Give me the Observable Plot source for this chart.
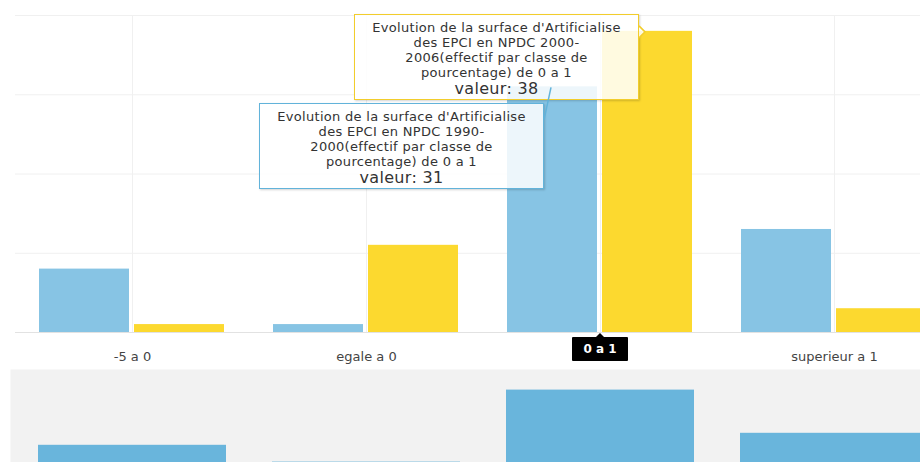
<!DOCTYPE html>
<html><head><meta charset="utf-8">
<script src="https://cdn.jsdelivr.net/npm/d3@7"></script>
<script src="https://cdn.jsdelivr.net/npm/@observablehq/plot@0.6"></script>
<style>
html,body{margin:0;padding:0;background:#fff;overflow:hidden}
#wrap{position:relative;width:920px;height:462px;overflow:hidden;font-family:"DejaVu Sans",Verdana,sans-serif}
#main,#nav{position:absolute;left:0}
#main{top:0}
#nav{top:369px}
.tip{position:absolute;box-sizing:border-box;width:285px;background:rgba(255,255,255,0.85);text-align:center;color:#333;font-size:13px;letter-spacing:0.3px;line-height:15px;padding:5px 8px 2px 8px;box-shadow:1px 1px 2px rgba(0,0,0,0.18);white-space:pre}
.tip .val{font-size:16px;line-height:16px;letter-spacing:0.3px;margin-top:1px}
.lab{position:absolute;background:#000;color:#fff;font-size:12px;font-weight:bold;text-align:center;width:56px;height:24px;line-height:24px;border-radius:1px}
#over{position:absolute;left:0;top:0;pointer-events:none}
</style></head>
<body>
<div id="wrap"><div id="main"></div><div id="nav"></div></div>
<script>
const categories = ["-5 a 0", "egale a 0", "0 a 1", "superieur a 1"];
// series names, kept as the wrapped lines shown in the tooltips
const seriesNameLines = [
  ["Evolution de la surface d'Artificialise", "des EPCI en NPDC 1990-", "2000(effectif par classe de", "pourcentage)"],
  ["Evolution de la surface d'Artificialise", "des EPCI en NPDC 2000-", "2006(effectif par classe de", "pourcentage)"]
];
const seriesNames = seriesNameLines.map(l => l[0] + " " + l[1] + l[2] + " " + l[3]);
const series1990 = [8, 1, 31, 13];
const series2000 = [1, 11, 38, 3];
const yTicks = [0, 10, 20, 30, 40];
const seriesColors = ["#87c4e4", "#fcd92f"];
const tipBorders = ["#62b3da", "#f2cd2c"];
const navColor = "#69b5dc";
const hovered = "0 a 1";
const valueLabel = "valeur: ";

const rows = [];
categories.forEach((c, i) => {
  rows.push({category: c, series: seriesNames[0], value: series1990[i]});
  rows.push({category: c, series: seriesNames[1], value: series2000[i]});
});

const main = Plot.plot({
  width: 920, height: 369,
  marginTop: 15, marginBottom: 37, marginLeft: 14, marginRight: 0,
  style: {fontFamily: '"DejaVu Sans", Verdana, sans-serif', fontSize: "13px", color: "#444", background: "transparent"},
  fx: {domain: categories, range: [14, 952], padding: 0, label: null, axis: "bottom", tickSize: 0, tickPadding: 19,
       tickFormat: d => d === hovered ? "" : d},
  x: {domain: seriesNames, paddingInner: 0.052, paddingOuter: 0.247, axis: null},
  y: {domain: [0, 40], axis: null},
  color: {domain: seriesNames, range: seriesColors},
  marks: [
    Plot.ruleY(yTicks, {stroke: d => d === 0 ? "#e2e2e2" : "#f0f0f0"}),
    Plot.ruleX(categories, {fx: d => d, x: null, stroke: "#f0f0f0"}),
    Plot.barY(rows, {fx: "category", x: "series", y: "value", fill: "series"})
  ]
});
document.getElementById("main").appendChild(main);

const navRows = categories.map((c, i) => ({category: c, value: series1990[i]}));
const nav = Plot.plot({
  width: 920, height: 95,
  marginTop: 0, marginBottom: 0, marginLeft: 10, marginRight: 0,
  style: {background: "transparent"},
  x: {domain: categories, range: [14, 952], paddingInner: 0.198, paddingOuter: 0.099, axis: null},
  y: {domain: [0, 40], range: [95, -1], axis: null},
  marks: [
    Plot.frame({fill: "#f2f2f2", stroke: "none"}),
    Plot.barY(navRows, {x: "category", y: "value", fill: navColor})
  ]
});
document.getElementById("nav").appendChild(nav);

// tooltips positioned from the scales
const fx = main.scale("fx"), xs = main.scale("x"), ys = main.scale("y");
const x0 = Math.min(...xs.range);
function bar(cat, si) {
  const i = categories.indexOf(cat);
  const v = si === 0 ? series1990[i] : series2000[i];
  const left = fx.apply(cat) + xs.apply(seriesNames[si]) - x0;
  return {cx: left + xs.bandwidth / 2, top: ys.apply(v), v};
}
const wrap = document.getElementById("wrap");
function makeTip(si, b) {
  const d = document.createElement("div");
  d.className = "tip";
  d.style.border = "1.5px solid " + tipBorders[si];
  const l = seriesNameLines[si];
  const t = document.createElement("div");
  t.textContent = [l[0], l[1], l[2], l[3] + " de " + hovered].join("\n");
  const v = document.createElement("div");
  v.className = "val";
  v.textContent = valueLabel + b.v;
  d.appendChild(t); d.appendChild(v);
  wrap.appendChild(d);
  return d;
}
const by = bar(hovered, 1), bb = bar(hovered, 0);
const tY = makeTip(1, by);
tY.style.left = (by.cx - 8 - 285) + "px";
tY.style.top = (by.top - 17) + "px";
const yBottom = by.top - 17 + tY.offsetHeight;
const tB = makeTip(0, bb);
const bTop = yBottom + 3;
tB.style.left = (bb.cx - 8 - 285) + "px";
tB.style.top = bTop + "px";

const cxCat = fx.apply(hovered) + fx.bandwidth / 2;
const baseY = ys.apply(0);
const lab = document.createElement("div");
lab.className = "lab";
lab.textContent = hovered;
lab.style.left = (cxCat - 28) + "px";
lab.style.top = (baseY + 5) + "px";
wrap.appendChild(lab);

const NS = "http://www.w3.org/2000/svg";
const over = document.createElementNS(NS, "svg");
over.setAttribute("id", "over");
over.setAttribute("width", 920); over.setAttribute("height", 462);
function path(d, fill, stroke) {
  const p = document.createElementNS(NS, "path");
  p.setAttribute("d", d); p.setAttribute("fill", fill);
  p.setAttribute("stroke", stroke); p.setAttribute("stroke-width", 1.5);
  over.appendChild(p);
}
const yr = by.cx - 8;
path(`M${yr},${by.top - 5} L${by.cx - 2},${by.top + 1} L${yr},${by.top + 7}`, "rgba(255,255,255,0.85)", tipBorders[1]);
path(`M${bb.cx - 1},${bb.top + 1} L${bb.cx - 8},${bTop + 17}`, "none", tipBorders[0]);
path(`M${cxCat - 5},${baseY + 6} L${cxCat},${baseY + 1} L${cxCat + 5},${baseY + 6} Z`, "#000", "none");
wrap.appendChild(over);
</script>
</body></html>
